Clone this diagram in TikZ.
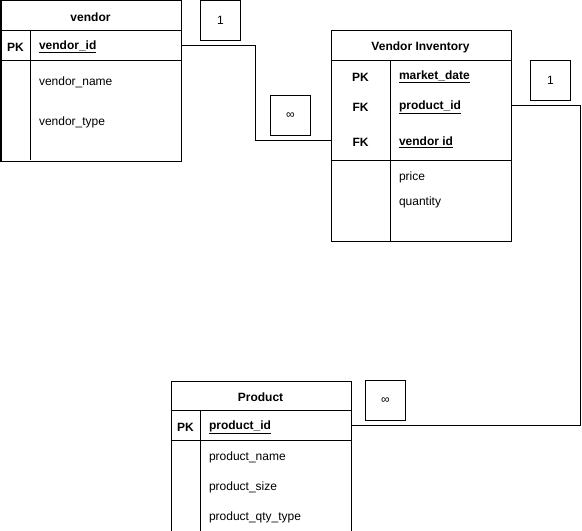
\documentclass[tikz,border=0pt]{standalone}
\usepackage{fontspec}
\setmainfont{Liberation Sans}
\begin{document}
\begin{tikzpicture}[x=1bp,y=-1bp,line width=1bp,
  tbl/.style={draw,anchor=north west,inner sep=0pt,minimum width=180bp},
  card/.style={draw,minimum width=40bp,minimum height=40bp,inner sep=0pt},
  fld/.style={anchor=west,inner sep=0pt,yshift=-1.5bp},
  ttl/.style={inner sep=0pt,font=\bfseries,yshift=-1.5bp},
  key/.style={inner sep=0pt,font=\bfseries,yshift=-1.5bp},
  conn/.style={draw,line width=1bp}]
\useasboundingbox (0,0) rectangle (582,531);
\fontsize{12bp}{14bp}\selectfont
% ---- vendor ----
\node[tbl,minimum height=160bp] (vendor) at (0.5,0.5) {};
\draw (0.5,30.5) -- (180.5,30.5);
\draw (0.5,60.5) -- (180.5,60.5);
\draw (30.5,30.5) -- (30.5,160.5);
\node[ttl] (vendortitle) at (90.5,15.5) {vendor};
\node[key] (vpk) at (15.5,45.5) {PK};
\node[fld] (vid) at (38.5,45.5) {\textbf{\underline{vendor\_id}}};
\node[fld] (vname) at (38.5,80.5) {vendor\_name};
\node[fld] (vtype) at (38.5,120.5) {vendor\_type};
% ---- vendor inventory ----
\node[tbl,minimum height=210bp] (inv) at (330.5,30.5) {};
\draw (330.5,60.5) -- (510.5,60.5);
\draw (330.5,160.5) -- (510.5,160.5);
\draw (390.5,60.5) -- (390.5,240.5);
\node[ttl] (invtitle) at (420.5,45.5) {Vendor Inventory};
\node[key] (ipk) at (360.5,75.5) {PK};
\node[key] (ifk1) at (360.5,105.5) {FK};
\node[key] (ifk2) at (360.5,140.5) {FK};
\node[fld] (imd) at (398.5,75.5) {\textbf{\underline{market\_date}}};
\node[fld] (ipid) at (398.5,105.5) {\textbf{\underline{product\_id}}};
\node[fld] (ivid) at (398.5,140.5) {\textbf{\underline{vendor id}}};
\node[fld] (iprice) at (398.5,175.5) {price};
\node[fld] (iqty) at (398.5,200.5) {quantity};
% ---- product ----
\node[tbl,minimum height=150bp] (prod) at (170.5,380.5) {};
\draw (170.5,410.5) -- (350.5,410.5);
\draw (170.5,440.5) -- (350.5,440.5);
\draw (200.5,410.5) -- (200.5,530.5);
\node[ttl] (prodtitle) at (260.5,395.5) {Product};
\node[key] (ppk) at (185.5,425.5) {PK};
\node[fld] (ppid) at (208.5,425.5) {\textbf{\underline{product\_id}}};
\node[fld] (pname) at (208.5,455.5) {product\_name};
\node[fld] (psize) at (208.5,485.5) {product\_size};
\node[fld] (pqty) at (208.5,515.5) {product\_qty\_type};
% ---- cardinality labels ----
\node[card] (c1) at (220.5,20.5) {1};
\node[card] (c2) at (290.5,115.5) {∞};
\node[card] (c3) at (550.5,80.5) {1};
\node[card] (c4) at (385.5,400.5) {∞};
% ---- connectors ----
\coordinate (j1) at (255.5,45.5);
\coordinate (j1b) at (255.5,140.5);
\coordinate (j2) at (580.5,105.5);
\coordinate (j2b) at (580.5,425.5);
\draw[conn] (vendor.east |- j1) -- (j1) -- (j1b) -- (inv.west |- j1b);
\draw[conn] (inv.east |- j2) -- (j2) -- (j2b) -- (prod.east |- j2b);
\end{tikzpicture}
\end{document}
